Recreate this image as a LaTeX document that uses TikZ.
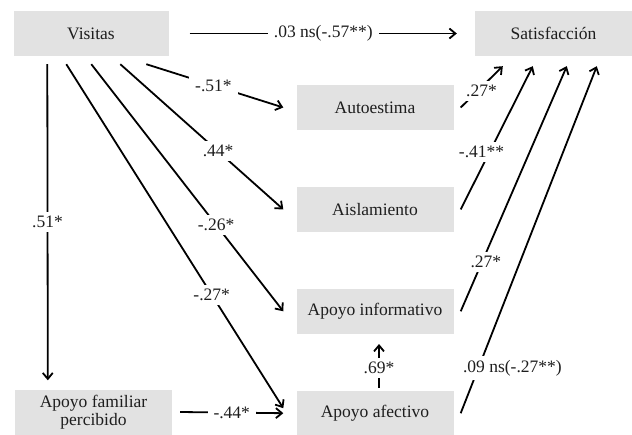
\documentclass[tikz,border=0pt]{standalone}
\usepackage{fontspec}
\setmainfont{Liberation Serif}
\usetikzlibrary{arrows.meta,positioning}
\definecolor{boxgray}{HTML}{E2E2E2}
\definecolor{inkgray}{HTML}{1E1E1E}

\begin{document}
\begin{tikzpicture}[
  x=1pt, y=1pt,
  >={Straight Barb[length=6pt,width=10pt]},
  var/.style={rectangle, fill=boxgray, text=inkgray, minimum width=155pt, minimum height=45pt, inner sep=2pt, align=center, font=\fontsize{17.5}{18.5}\selectfont},
  link/.style={->, line width=1.8pt, draw=black},
  coef/.style={fill=white, inner xsep=6pt, inner ysep=4pt, text=inkgray, font=\fontsize{17.5}{18.5}\selectfont}
]
  \useasboundingbox (0,0) rectangle (632,-434);

  % Left column
  \node[var] (visitas) at (91,-33.5) {Visitas};
  \node[var, minimum width=157pt] (familiar) at (93.5,-412) {Apoyo familiar\\percibido};

  % Middle column: mediators
  \node[var, minimum width=157pt] (auto) at (375,-107.5) {Autoestima};
  \node[var, minimum width=157pt, below=56.5pt of auto] (aisl) {Aislamiento};
  \node[var, minimum width=157pt, below=56.5pt of aisl] (info) {Apoyo informativo};
  \node[var, minimum width=157pt, below=56.5pt of info] (afect) {Apoyo afectivo};

  % Outcome
  \node[var, minimum width=157pt] (sat) at (553.5,-33.5) {Satisfacción};

  % Paths from Visitas
  \draw[link] ([xshift=21pt]visitas.east) -- node[coef] {.03 ns(-.57**)} ([xshift=-18pt]sat.west);
  \draw[link] ([shift={(133pt,-8pt)}]visitas.south west) -- node[coef, pos=0.49] {-.51*} ([xshift=-13pt]auto.west);
  \draw[link] ([shift={(107pt,-8pt)}]visitas.south west) -- node[coef, pos=0.6] {.44*} ([xshift=-13pt]aisl.west);
  \draw[link] ([shift={(78pt,-8pt)}]visitas.south west) -- node[coef, pos=0.65] {-.26*} ([xshift=-13pt]info.west);
  \draw[link] ([shift={(53pt,-8pt)}]visitas.south west) -- node[coef, pos=0.67] {-.27*} ([shift={(-13pt,5pt)}]afect.west);
  \draw[link] ([shift={(34pt,-8pt)}]visitas.south west) -- node[coef] {.51*} ([shift={(33pt,9pt)}]familiar.north west);

  % Between mediators
  \draw[link] ([xshift=8pt]familiar.east) -- node[coef] {-.44*} ([xshift=-13pt]afect.west);
  \draw[link] ([shift={(4pt,3pt)}]afect.north) -- node[coef, pos=0.45] {.69*} ([shift={(4pt,-10pt)}]info.south);

  % Paths to Satisfaccion
  \draw[link] ([xshift=7pt]auto.east) -- node[coef, pos=0.4, xshift=4pt] {.27*} ([shift={(28pt,-10pt)}]sat.south west);
  \draw[link] ([xshift=7pt]aisl.east) -- node[coef, pos=0.4, xshift=-8pt] {-.41**} ([shift={(58pt,-10pt)}]sat.south west);
  \draw[link] ([xshift=7pt]info.east) -- node[coef, pos=0.2, xshift=4pt] {.27*} ([shift={(92pt,-10pt)}]sat.south west);
  \draw[link] ([xshift=7pt]afect.east) -- node[coef, pos=0.13, xshift=34pt] {.09 ns(-.27**)} ([shift={(122pt,-10pt)}]sat.south west);
\end{tikzpicture}
\end{document}
